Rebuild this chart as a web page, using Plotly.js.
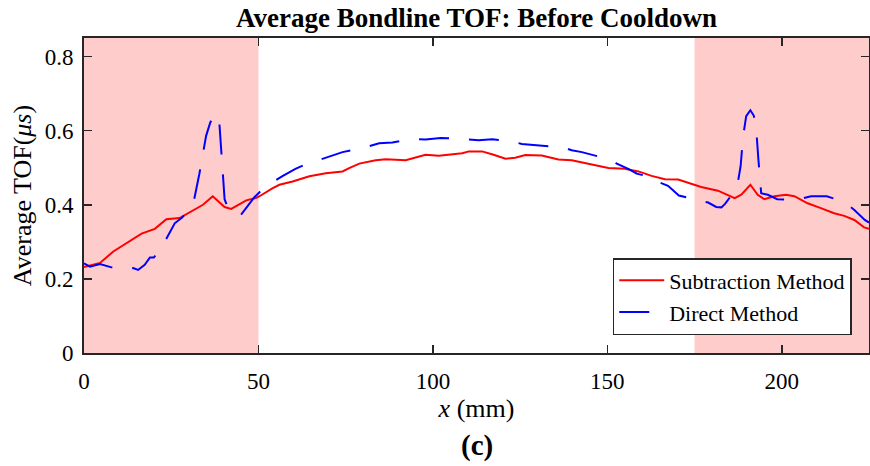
<!DOCTYPE html>
<html>
<head>
<meta charset="utf-8">
<script src="https://cdn.plot.ly/plotly-3.0.1.min.js"></script>
<style>html,body{margin:0;padding:0;background:#fff;}#chart{width:870px;height:466px;}</style>
</head>
<body>
<div id="chart"></div>
<script>
// Subtraction Method (red, solid)
const subX = [0, 4.6, 8.4, 13.1, 16.5, 20.3, 23.6, 27.4, 31.7, 34.1, 36.9, 40.3, 42.2, 46.5, 49.3, 50.3, 54.1, 56, 59.8, 64.6, 69.3, 74.1, 76, 78.9, 83.6, 86.5, 92.2, 96, 97.9, 101.7, 105.5, 108.4, 110.3, 114.1, 117.4, 120.8, 123.6, 126.5, 131.2, 136, 139.8, 144.6, 150.3, 155, 158.9, 162.7, 166.5, 170.3, 173.1, 176.9, 181.7, 184.6, 186.5, 188.4, 191, 193.1, 195, 197.9, 201.2, 203.6, 207.4, 211.2, 215, 217.9, 220.8, 223.6, 225];
const subY = [0.232, 0.243, 0.274, 0.301, 0.322, 0.335, 0.361, 0.364, 0.386, 0.4, 0.423, 0.394, 0.389, 0.412, 0.418, 0.423, 0.445, 0.454, 0.463, 0.477, 0.485, 0.49, 0.499, 0.511, 0.52, 0.523, 0.52, 0.529, 0.535, 0.532, 0.535, 0.539, 0.544, 0.544, 0.535, 0.524, 0.527, 0.534, 0.533, 0.522, 0.52, 0.51, 0.499, 0.497, 0.49, 0.478, 0.469, 0.468, 0.459, 0.448, 0.438, 0.427, 0.418, 0.427, 0.454, 0.427, 0.415, 0.423, 0.427, 0.423, 0.404, 0.391, 0.377, 0.37, 0.359, 0.339, 0.335];

// Direct Method (blue, dashed)
const dirX = [0, 1.7, 4.6, 7.9, 11, 14.1, 15.5, 17.4, 18.9, 20, 21.7, 23.4, 26, 28.2, 29.8, 31.4, 33.1, 34.1, 35, 36.2, 37.5, 38.7, 39.3, 39.8, 40.3, 41.5, 42.9, 45, 46.9, 48.9, 51, 53.1, 57, 60.6, 63.3, 66, 70.3, 74.1, 77, 79.8, 84.6, 88.4, 91.2, 94.1, 97.9, 102.2, 105.3, 108.4, 113.1, 117, 119.8, 122.7, 125.5, 131.2, 134, 136.9, 139.8, 142.7, 145.3, 148, 150.8, 152.7, 156, 158.4, 161, 163.6, 165, 167.4, 170.5, 173.2, 176, 178.9, 181.2, 182.7, 183.8, 185.5, 187.2, 188.2, 188.4, 188.9, 189.8, 191, 192, 192.7, 193.3, 193.9, 194.1, 196, 198.7, 201.6, 204.6, 208.4, 212.9, 215.5, 218.1, 220.8, 223.8, 225];
const dirY = [0.242, 0.233, 0.24, 0.231, 0.226, 0.229, 0.224, 0.238, 0.258, 0.258, 0.275, 0.304, 0.35, 0.366, 0.385, 0.406, 0.485, 0.544, 0.586, 0.622, 0.645, 0.634, 0.553, 0.499, 0.415, 0.385, 0.378, 0.373, 0.395, 0.421, 0.44, 0.456, 0.478, 0.497, 0.508, 0.517, 0.531, 0.542, 0.548, 0.553, 0.566, 0.568, 0.573, 0.577, 0.576, 0.58, 0.579, 0.578, 0.574, 0.577, 0.574, 0.571, 0.564, 0.558, 0.557, 0.556, 0.547, 0.542, 0.535, 0.529, 0.523, 0.511, 0.497, 0.484, 0.478, 0.472, 0.46, 0.451, 0.425, 0.418, 0.412, 0.406, 0.394, 0.393, 0.403, 0.425, 0.448, 0.504, 0.528, 0.583, 0.639, 0.655, 0.64, 0.601, 0.522, 0.466, 0.431, 0.427, 0.415, 0.414, 0.414, 0.423, 0.423, 0.415, 0.406, 0.386, 0.359, 0.352];

// shaded regions [start, end] in mm
const shadeStart = [0, 175];
const shadeEnd = [50, 225];

const xTicks = [0, 50, 100, 150, 200];
const yTicks = [0, 0.2, 0.4, 0.6, 0.8];

const serif = 'Liberation Serif, Times New Roman, serif';
const axisCol = '#262626';

const shapes = shadeStart.map((s, i) => ({
  type: 'rect', xref: 'x', yref: 'paper', x0: s, x1: shadeEnd[i], y0: 0, y1: 1,
  fillcolor: '#ffcccc', line: {width: 0}, layer: 'below'
}));

const traces = [
  {x: subX, y: subY, type: 'scatter', mode: 'lines', name: 'Subtraction Method',
   line: {color: '#ff0000', width: 2}},
  {x: dirX, y: dirY, type: 'scatter', mode: 'lines', name: 'Direct Method',
   line: {color: '#0000ff', width: 2, dash: '30px,20px'}}
];

const layout = {
  width: 870, height: 466,
  margin: {l: 84, r: 1, t: 38, b: 113},
  paper_bgcolor: '#fff', plot_bgcolor: '#fff',
  font: {family: serif, color: '#000', size: 22},
  title: {text: '<b>Average Bondline TOF: Before Cooldown</b>', font: {family: serif, size: 27, color: '#000'},
          xref: 'paper', x: 0.5, xanchor: 'center', yref: 'container', y: 0.962, yanchor: 'middle'},
  xaxis: {range: [0, 225], tickvals: xTicks, ticktext: xTicks.map(String), ticks: 'inside', ticklen: 8,
          tickcolor: axisCol, tickwidth: 1.5, showline: true, linecolor: axisCol, linewidth: 2, mirror: 'ticks',
          showgrid: false, zeroline: false, tickfont: {family: serif, size: 23, color: '#000'},
          ticklabelstandoff: 6,
          title: {text: '<i>x</i> (mm)', font: {family: serif, size: 26, color: '#000'}, standoff: 5}},
  yaxis: {range: [0, 0.85], tickvals: yTicks, ticktext: yTicks.map(v => v === 0 ? '0' : v.toFixed(1)),
          ticks: 'inside', ticklen: 8, tickcolor: axisCol, tickwidth: 1.5, showline: true, linecolor: axisCol,
          linewidth: 2, mirror: 'ticks', showgrid: false, zeroline: false,
          tickfont: {family: serif, size: 23, color: '#000'}, ticklabelstandoff: 4,
          title: {text: 'Average TOF(<i>μs</i>)', font: {family: serif, size: 26, color: '#000'}, standoff: 6}},
  shapes: shapes,
  legend: {x: 0.978, xanchor: 'right', y: 0.057, yanchor: 'bottom', bgcolor: '#fff',
           bordercolor: '#262626', borderwidth: 1.5, font: {family: serif, size: 22, color: '#000'},
           itemwidth: 45, tracegroupgap: 0},
  annotations: [{text: '<b>(c)</b>', xref: 'paper', yref: 'paper', x: 0.5, y: -0.295, xanchor: 'center',
                 yanchor: 'middle', showarrow: false, font: {family: serif, size: 29, color: '#000'}}],
  showlegend: true
};

Plotly.newPlot('chart', traces, layout, {displayModeBar: false, staticPlot: true});
</script>
</body>
</html>
